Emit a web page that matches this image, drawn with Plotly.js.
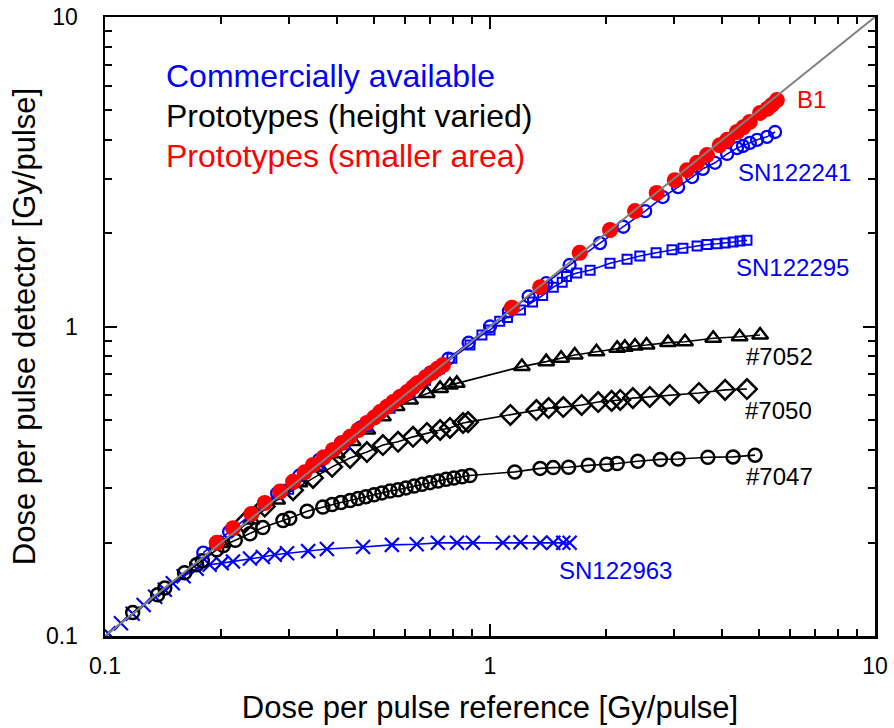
<!DOCTYPE html>
<html>
<head>
<meta charset="utf-8">
<script src="https://cdn.plot.ly/plotly-3.0.1.min.js"></script>
<style>html,body{margin:0;padding:0;background:#fff;}#chart{width:894px;height:728px;}</style>
</head>
<body>
<div id="chart"></div>
<script>
// Identity reference line
const identityX = [0.1, 10];
const identityY = [0.1, 10];

// SN122963 (commercial, blue crosses)
const sn122963X = [0.102,0.110,0.118,0.126,0.135,0.143,0.150,0.160,0.173,0.187,0.201,0.215,0.238,0.257,0.276,0.297,0.337,0.377,0.468,0.556,0.645,0.732,0.821,0.903,1.08,1.20,1.35,1.46,1.55,1.61];
const sn122963Y = [0.102,0.110,0.118,0.126,0.134,0.141,0.148,0.156,0.165,0.170,0.172,0.174,0.178,0.180,0.183,0.185,0.188,0.191,0.194,0.197,0.198,0.200,0.200,0.200,0.200,0.201,0.200,0.200,0.200,0.200];

// #7047 (prototype, black open circles)
const p7047X = [0.118,0.137,0.143,0.161,0.173,0.179,0.195,0.203,0.218,0.238,0.257,0.290,0.302,0.335,0.368,0.389,0.410,0.433,0.454,0.476,0.500,0.524,0.550,0.577,0.605,0.635,0.666,0.698,0.733,0.769,0.806,0.846,0.887,1.16,1.35,1.46,1.60,1.80,2.01,2.14,2.42,2.77,3.08,3.68,4.28,4.88];
const p7047Y = [0.119,0.136,0.143,0.160,0.170,0.175,0.190,0.196,0.204,0.214,0.224,0.236,0.240,0.253,0.261,0.266,0.270,0.274,0.278,0.282,0.286,0.290,0.294,0.297,0.301,0.305,0.309,0.313,0.317,0.321,0.324,0.327,0.330,0.339,0.348,0.350,0.351,0.356,0.359,0.361,0.367,0.372,0.373,0.378,0.379,0.384];

// #7050 (prototype, black open diamonds)
const p7050X = [0.230,0.260,0.308,0.347,0.389,0.433,0.479,0.527,0.577,0.631,0.686,0.742,0.787,0.851,0.877,1.13,1.32,1.42,1.55,1.73,1.91,2.07,2.18,2.35,2.60,2.93,3.49,4.08,4.65];
const p7050Y = [0.232,0.262,0.296,0.324,0.352,0.376,0.393,0.414,0.424,0.440,0.453,0.463,0.470,0.488,0.491,0.518,0.537,0.545,0.549,0.558,0.570,0.575,0.579,0.587,0.592,0.601,0.610,0.624,0.628];

// #7052 (prototype, black open triangles)
const p7052X = [0.200,0.240,0.280,0.320,0.360,0.400,0.440,0.480,0.527,0.572,0.620,0.685,0.742,0.787,0.820,1.21,1.40,1.53,1.66,1.89,2.14,2.24,2.38,2.55,2.90,3.21,3.80,4.45,5.03];
const p7052Y = [0.199,0.237,0.275,0.313,0.350,0.388,0.425,0.463,0.511,0.551,0.579,0.608,0.631,0.647,0.655,0.742,0.770,0.789,0.809,0.829,0.850,0.857,0.865,0.871,0.887,0.893,0.916,0.927,0.939];

// SN122295 (commercial, blue open squares)
const sn122295X = [0.300,0.360,0.420,0.480,0.550,0.620,0.680,0.740,0.796,0.887,0.953,1.00,1.06,1.11,1.20,1.29,1.37,1.46,1.54,1.58,1.68,1.82,2.05,2.27,2.45,2.70,2.97,3.17,3.45,3.66,3.89,4.08,4.28,4.46,4.65];
const sn122295Y = [0.298,0.357,0.416,0.475,0.544,0.612,0.671,0.730,0.790,0.871,0.939,0.974,1.04,1.07,1.13,1.20,1.26,1.34,1.39,1.45,1.49,1.52,1.60,1.65,1.69,1.73,1.77,1.79,1.82,1.84,1.85,1.86,1.875,1.89,1.90];

// SN122241 (commercial, blue open circles)
const sn122241X = [0.180,0.210,0.240,0.280,0.320,0.360,0.410,0.460,0.520,0.580,0.640,0.700,0.780,0.880,1.00,1.12,1.26,1.40,1.61,1.93,2.22,2.53,2.81,3.08,3.35,3.57,3.84,4.13,4.38,4.54,4.73,4.94,5.24,5.50];
const sn122241Y = [0.186,0.217,0.248,0.289,0.330,0.371,0.421,0.471,0.531,0.590,0.650,0.710,0.788,0.886,1.00,1.12,1.25,1.38,1.58,1.86,2.10,2.36,2.62,2.82,3.04,3.23,3.38,3.61,3.77,3.83,3.92,4.01,4.10,4.25];

// B1 (prototype smaller area, red filled circles)
const b1X = [0.195,0.215,0.240,0.260,0.285,0.308,0.330,0.347,0.370,0.391,0.412,0.433,0.455,0.479,0.500,0.518,0.540,0.560,0.585,0.609,0.630,0.650,0.680,0.707,0.730,0.755,1.14,1.35,1.71,2.05,2.38,2.71,3.02,3.25,3.45,3.66,3.95,4.13,4.38,4.55,4.73,5.03,5.25,5.40,5.56];
const b1Y = [0.200,0.223,0.248,0.269,0.293,0.315,0.338,0.357,0.378,0.399,0.420,0.440,0.463,0.488,0.508,0.529,0.550,0.570,0.593,0.614,0.636,0.657,0.685,0.708,0.730,0.751,1.15,1.34,1.73,2.05,2.36,2.70,2.97,3.20,3.38,3.58,3.85,4.01,4.25,4.40,4.58,4.90,5.05,5.20,5.39];

// Text
const xTitle = 'Dose per pulse reference [Gy/pulse]';
const yTitle = 'Dose per pulse detector [Gy/pulse]';
const groupLabels = ['Commercially available', 'Prototypes (height varied)', 'Prototypes (smaller area)'];
const seriesLabels = ['B1', 'SN122241', 'SN122295', '#7052', '#7050', '#7047', 'SN122963'];

const BLUE = '#0000FF', RED = '#FF0000', BLACK = '#000000', GRAY = '#808080';
const FONT = 'Arial, "Liberation Sans", sans-serif';

function series(x, y, color, symbol, size, lw, withLine) {
  return {
    x: x, y: y, type: 'scatter',
    mode: withLine ? 'lines+markers' : 'markers',
    line: {color: color, width: 1.6},
    marker: {symbol: symbol, size: size, color: color, line: {color: color, width: lw}},
    showlegend: false, hoverinfo: 'skip'
  };
}

const traces = [
  series(sn122963X, sn122963Y, BLUE, 'x-thin', 14, 2.2, true),
  series(p7047X, p7047Y, BLACK, 'circle-open', 13, 2.5, true),
  series(p7050X, p7050Y, BLACK, 'diamond-open', 15, 2.5, true),
  series(p7052X, p7052Y, BLACK, 'triangle-up-open', 14, 2.5, true),
  series(sn122295X, sn122295Y, BLUE, 'square-open', 9, 2, true),
  series(sn122241X, sn122241Y, BLUE, 'circle-open', 12, 2.3, true),
  series(b1X, b1Y, RED, 'circle', 16, 0, false),
  {x: identityX, y: identityY, type: 'scatter', mode: 'lines',
   line: {color: GRAY, width: 2}, showlegend: false, hoverinfo: 'skip'}
];

function ann(text, lx, ly, color, size) {
  return {text: text, x: lx, y: ly, xref: 'x', yref: 'y', xanchor: 'left', yanchor: 'middle',
          showarrow: false, font: {family: FONT, size: size, color: color}};
}

const annotations = [
  ann(groupLabels[0], -0.848, 0.809, BLUE, 32),
  ann(groupLabels[1], -0.848, 0.680, BLACK, 32),
  ann(groupLabels[2], -0.848, 0.551, RED, 32),
  ann(seriesLabels[0], 0.793, 0.732, RED, 24),
  ann(seriesLabels[1], 0.640, 0.496, BLUE, 24),
  ann(seriesLabels[2], 0.635, 0.192, BLUE, 24),
  ann(seriesLabels[3], 0.661, -0.098, BLACK, 24),
  ann(seriesLabels[4], 0.658, -0.270, BLACK, 24),
  ann(seriesLabels[5], 0.661, -0.486, BLACK, 24),
  ann(seriesLabels[6], 0.175, -0.787, BLUE, 24)
];

const axisCommon = {
  type: 'log', range: [-1, 1], dtick: 1,
  showgrid: false, zeroline: false,
  showline: true, linecolor: BLACK, linewidth: 2.5, mirror: 'ticks',
  ticks: 'inside', ticklen: 12, tickwidth: 2, tickcolor: BLACK,
  minor: {ticks: 'inside', ticklen: 7, tickwidth: 2, tickcolor: BLACK, dtick: 'D1', showgrid: false},
  tickfont: {family: FONT, size: 23, color: BLACK},
  automargin: false
};

const layout = {
  width: 894, height: 728,
  margin: {l: 105, r: 19, t: 17, b: 92},
  paper_bgcolor: '#FFFFFF', plot_bgcolor: '#FFFFFF',
  font: {family: FONT, color: BLACK},
  xaxis: Object.assign({}, axisCommon, {
    ticklabelstandoff: 8,
    title: {text: xTitle, font: {family: FONT, size: 31, color: BLACK}, standoff: 18}
  }),
  yaxis: Object.assign({}, axisCommon, {
    ticklabelstandoff: 20,
    title: {text: yTitle, font: {family: FONT, size: 31, color: BLACK}, standoff: 1}
  }),
  annotations: annotations
};

Plotly.newPlot('chart', traces, layout, {staticPlot: true, displayModeBar: false});
</script>
</body>
</html>
